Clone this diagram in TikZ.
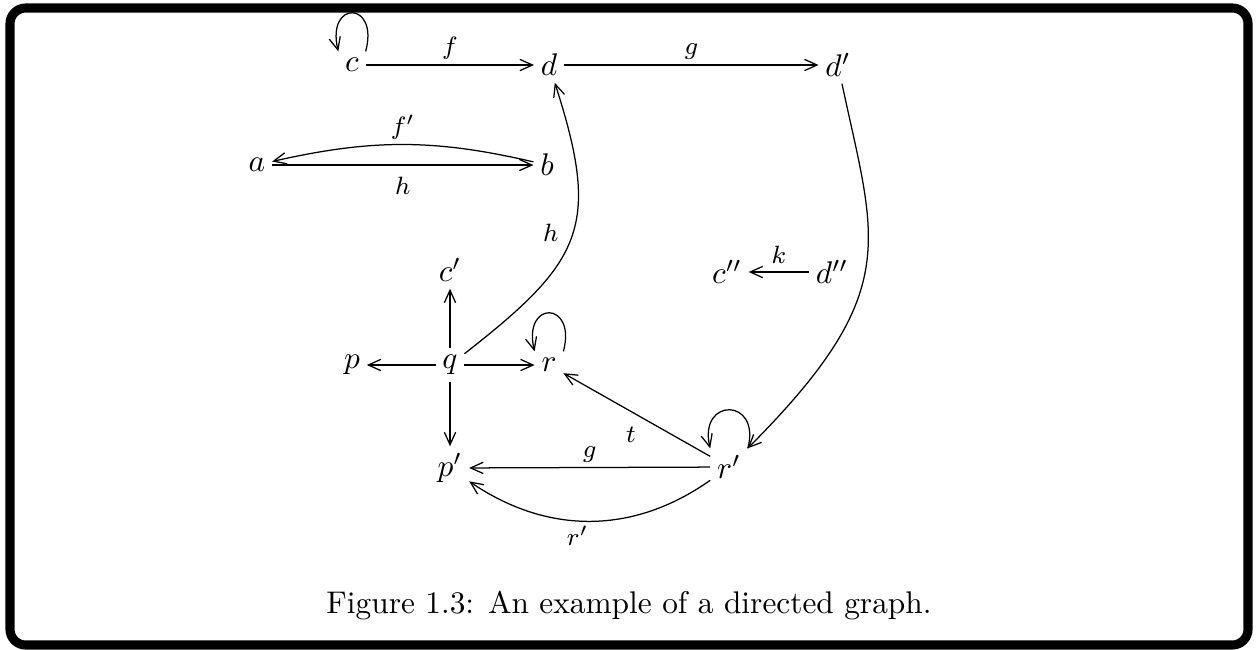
\documentclass[tikz,border=0pt]{standalone}
\usetikzlibrary{arrows.meta,bending}
\begin{document}
\begin{tikzpicture}[x=0.319pt,y=-0.319pt,
  vtx/.style={inner sep=2pt},
  lbl/.style={font=\footnotesize,inner sep=1.5pt},
  arr/.style={-{Straight Barb[length=4pt,width=3.6pt]},line width=0.4pt},
  frame/.style={line width=2.9pt,rounded corners=5pt}]
\useasboundingbox (0,0) rectangle (1258,649);
\draw[frame] (10,8) rectangle (1248,645);
\node[vtx] (c) at (352,65) {$c$};
\node[vtx] (d) at (549,65) {$d$};
\node[vtx] (dp) at (838,65) {$d'$};
\node[vtx] (a) at (257,165) {$a$};
\node[vtx] (b) at (547,165) {$b$};
\node[vtx] (cp) at (450,270) {$c'$};
\node[vtx] (cpp) at (727,272) {$c''$};
\node[vtx] (dpp) at (832,272) {$d''$};
\node[vtx] (p) at (352,365) {$p$};
\node[vtx] (q) at (450,365) {$q$};
\node[vtx] (r) at (549,365) {$r$};
\node[vtx] (pp) at (450,468) {$p'$};
\node[vtx] (rp) at (729,467) {$r'$};
\node (cap) at (629,605) {Figure 1.3: An example of a directed graph.};

\draw[arr] (c) -- node[lbl,above=0pt] {$f$} (d);
\draw[arr] (d) -- node[lbl,above=0pt] {$g$} (dp);
\draw[arr] (c.north east) .. controls +(75:17pt) and +(105:17pt) .. (c.north west);
\draw[arr] (b) to[bend right=13] node[lbl,above] {$f'$} (a);
\draw[arr] (a) -- node[lbl,below=2pt] {$h$} (b);
\draw[arr] (q) to[out=38,in=-72,looseness=1.35] node[lbl,pos=0.52,left=3pt] {$h$} (d);
\draw[arr] (q) -- (cp);
\draw[arr] (q) -- (p);
\draw[arr] (q) -- (r);
\draw[arr] (q) -- (pp);
\draw[arr] (r.north east) .. controls +(75:17pt) and +(105:17pt) .. (r.north west);
\draw[arr] (dp) to[out=-78,in=45,out looseness=1.1,in looseness=1.5] (rp);
\draw[arr] (dpp) -- node[lbl,above=1pt] {$k$} (cpp);
\draw[arr] (rp.north east) .. controls +(75:17pt) and +(105:17pt) .. (rp.north west);
\draw[arr] (rp) -- node[lbl,pos=0.45,below left=1pt] {$t$} (r);
\draw[arr] (rp) -- node[lbl,above=0pt] {$g$} (pp);
\draw[arr] (rp) to[bend left=35] node[lbl,pos=0.55,below=0pt] {$r'$} (pp);
\end{tikzpicture}
\end{document}
